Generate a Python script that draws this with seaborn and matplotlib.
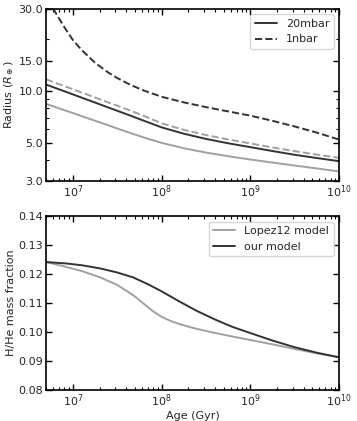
"""
Radius and H/He mass fraction evolution vs age
"""

import matplotlib
matplotlib.use("Agg")
import matplotlib.pyplot as plt
import matplotlib.ticker as mticker
import seaborn as sns
import pandas as pd
import numpy as np

# ---- data (log10 age in yr) ----
LOG_AGE = [6.7, 6.78, 6.9, 7.0, 7.1, 7.25, 7.4, 7.5, 7.65, 7.8,
           8.0, 8.25, 8.5, 8.75, 9.0, 9.25, 9.5, 9.75, 10.0]

# radius, our model
r_ours_20mbar = [10.9, 10.52, 9.99, 9.56, 9.15, 8.57, 8.02, 7.68, 7.19, 6.72,
                 6.15, 5.65, 5.27, 4.97, 4.72, 4.48, 4.26, 4.08, 3.91]
r_ours_1nbar = [37.0, 30.0, 23.7, 19.8, 17.3, 14.6, 12.8, 11.9, 10.85, 10.06,
                9.26, 8.59, 8.06, 7.61, 7.19, 6.71, 6.22, 5.73, 5.22]
# radius, Lopez12 model
r_lop_20mbar = [8.4, 8.15, 7.75, 7.45, 7.15, 6.72, 6.32, 6.06, 5.7, 5.37,
                5.0, 4.65, 4.39, 4.18, 4.0, 3.84, 3.69, 3.55, 3.41]
r_lop_1nbar = [11.7, 11.28, 10.7, 10.24, 9.8, 9.17, 8.58, 8.22, 7.69, 7.17,
               6.49, 5.95, 5.55, 5.23, 4.96, 4.7, 4.47, 4.27, 4.09]

# H/He mass fraction
LOG_AGE_LOPEZ = [6.7, 6.93, 7.1, 7.31, 7.5, 7.68, 7.8, 7.9, 8.0, 8.1, 8.2, 8.35,
                 8.5, 8.75, 9.0, 9.25, 9.5, 9.75, 10.0]
f_lopez = [0.1241, 0.1224, 0.1210, 0.1188, 0.1162, 0.1127, 0.1097, 0.1072, 0.1052, 0.1038,
           0.1027, 0.1014, 0.1003, 0.0987, 0.0972, 0.0957, 0.0941, 0.0926, 0.0913]
LOG_AGE_OURS = [6.7, 6.93, 7.1, 7.31, 7.5, 7.68, 7.85, 8.0, 8.2, 8.4, 8.6, 8.8,
                9.0, 9.25, 9.5, 9.75, 10.0]
f_ours = [0.1241, 0.1236, 0.1230, 0.1219, 0.1205, 0.1188, 0.1164, 0.1140, 0.1105, 0.1072,
          0.1043, 0.1017, 0.0996, 0.0970, 0.0947, 0.0928, 0.0912]

DARK = "#333333"
GREY = "#a0a0a0"

sns.set_style("ticks")
plt.rcParams["font.family"] = ["DejaVu Sans"]
plt.rcParams["font.size"] = 8

df_r = pd.DataFrame({"age": 10 ** np.array(LOG_AGE), "ours20": r_ours_20mbar, "ours1": r_ours_1nbar,
                     "lop20": r_lop_20mbar, "lop1": r_lop_1nbar})
df_lop = pd.DataFrame({"age": 10 ** np.array(LOG_AGE_LOPEZ), "frac": f_lopez})
df_our = pd.DataFrame({"age": 10 ** np.array(LOG_AGE_OURS), "frac": f_ours})

fig = plt.figure(figsize=(3.57, 4.21), dpi=100)
ax1 = fig.add_axes([0.129, 0.570, 0.821, 0.409])
ax2 = fig.add_axes([0.129, 0.074, 0.821, 0.413])

lw = 1.4
sns.lineplot(data=df_r, x="age", y="lop20", ax=ax1, color=GREY, lw=lw)
sns.lineplot(data=df_r, x="age", y="lop1", ax=ax1, color=GREY, lw=lw, linestyle="--")
sns.lineplot(data=df_r, x="age", y="ours20", ax=ax1, color=DARK, lw=lw, label="20mbar")
sns.lineplot(data=df_r, x="age", y="ours1", ax=ax1, color=DARK, lw=lw, linestyle="--", label="1nbar")

sns.lineplot(data=df_lop, x="age", y="frac", ax=ax2, color=GREY, lw=lw, label="Lopez12 model")
sns.lineplot(data=df_our, x="age", y="frac", ax=ax2, color=DARK, lw=lw, label="our model")

for ax in (ax1, ax2):
    ax.set_xscale("log")
    ax.set_xlim(5e6, 1e10)
    ax.tick_params(which="both", direction="in", top=True, right=True, labelsize=8,
                   color="black", pad=2)
    ax.tick_params(which="major", length=4, width=1)
    ax.tick_params(which="minor", length=2, width=0.8)
    ax.xaxis.set_minor_locator(mticker.LogLocator(base=10, subs=np.arange(2, 10), numticks=20))
    for s in ax.spines.values():
        s.set_linewidth(1.2)
        s.set_color("black")
    ax.legend(loc="upper right", fontsize=8)

ax1.set_yscale("log")
ax1.set_ylim(3, 30)
ax1.set_yticks([3, 5, 10, 15, 30])
ax1.yaxis.set_major_formatter(mticker.FormatStrFormatter("%.1f"))
ax1.yaxis.set_minor_formatter(mticker.NullFormatter())
ax1.set_xlabel("")
ax1.set_ylabel(r"Radius ($R_\oplus$)", fontsize=8, labelpad=2)

ax2.set_ylim(0.08, 0.14)
ax2.set_yticks(np.arange(0.08, 0.1401, 0.01))
ax2.yaxis.set_major_formatter(mticker.FormatStrFormatter("%.2f"))
ax2.set_xlabel("Age (Gyr)", fontsize=8, labelpad=1)
ax2.set_ylabel("H/He mass fraction", fontsize=8, labelpad=2)

fig.savefig("out.png", dpi=100)
